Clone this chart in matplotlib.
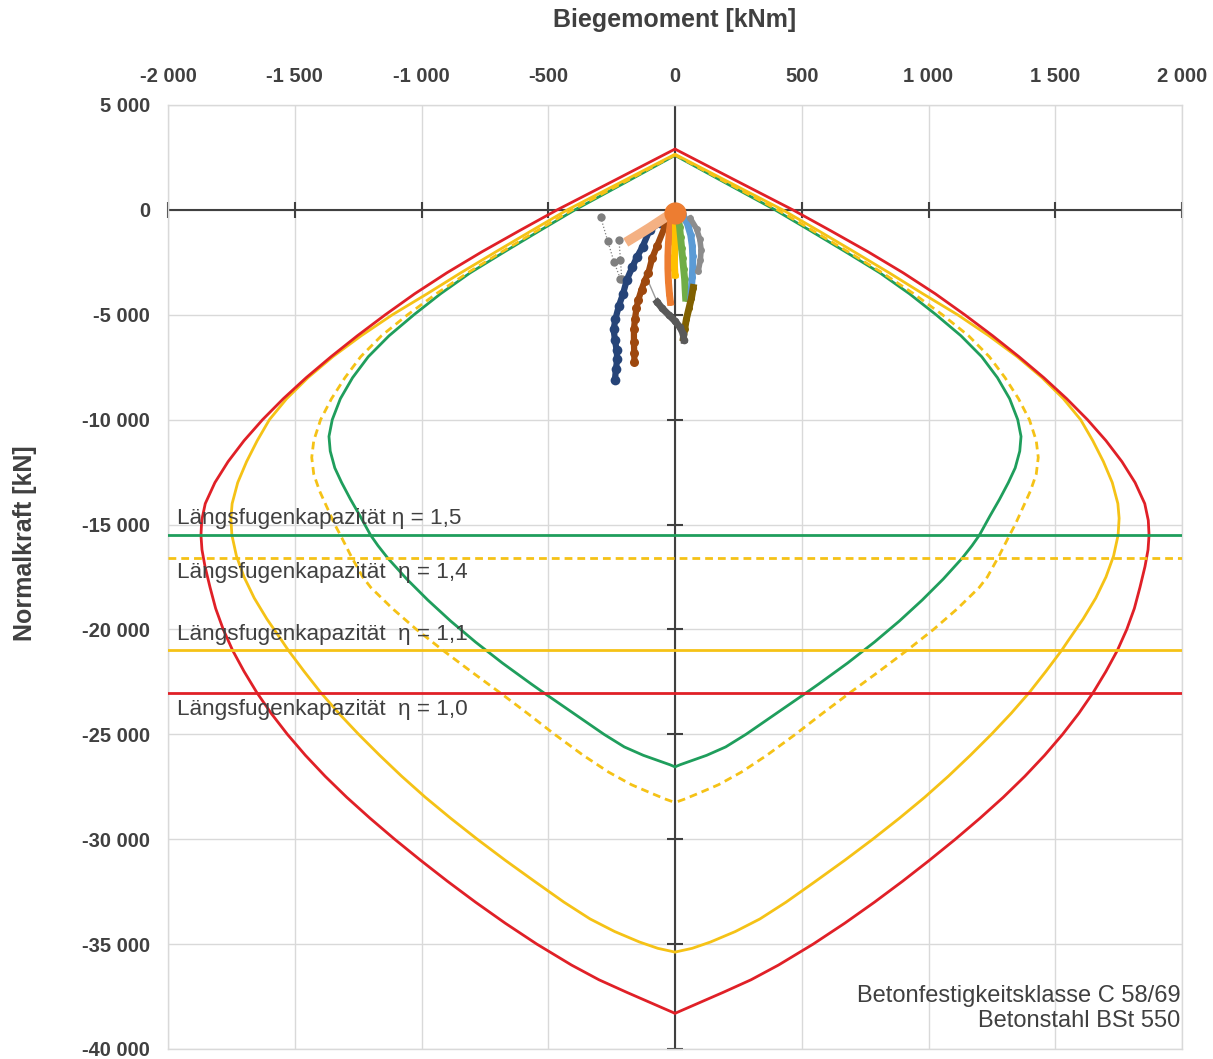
import matplotlib
matplotlib.use("Agg")
import matplotlib.pyplot as plt
from matplotlib.ticker import FuncFormatter

plt.rcParams['font.family'] = ['Liberation Sans', 'DejaVu Sans']

# ---------------- data ----------------
# interaction diagrams, N [kN] with M [kNm] of the right (+) and left (-) branch
red_N = [2900, 1450, 0, -1000, -2000, -3000, -4000, -5000, -6000, -7000, -8000, -9000, -10000, -11000,
         -12000, -13000, -14000, -14800, -15500, -16200, -17000, -18000, -19000, -20000, -21000, -22000,
         -23000, -24000, -25000, -26000, -27000, -28000, -29000, -30000, -31000, -32000, -33000, -34000,
         -35000, -36000, -36700, -37300, -37800, -38100, -38300]
red_M_right = [0, 232, 465, 615, 762, 900, 1027, 1143, 1253, 1357, 1455, 1545, 1627, 1700,
               1763, 1815, 1853, 1867, 1870, 1866, 1854, 1834, 1812, 1782, 1745, 1700,
               1650, 1593, 1529, 1458, 1380, 1295, 1203, 1106, 1004, 898, 787, 670,
               545, 408, 300, 190, 95, 38, 0]
red_M_left = [0, -232, -465, -615, -762, -900, -1027, -1143, -1253, -1357, -1455, -1545, -1627, -1700,
              -1763, -1815, -1853, -1867, -1870, -1866, -1854, -1834, -1812, -1782, -1745, -1700,
              -1650, -1593, -1529, -1458, -1380, -1295, -1203, -1106, -1004, -898, -787, -670,
              -545, -408, -300, -190, -95, -38, 0]

yel_N = [2650, 0, -1000, -2000, -3000, -4000, -5000, -6000, -7000, -8000, -9000, -10000, -11000, -12000,
         -13000, -14000, -14700, -15500, -16500, -17500, -18500, -19500, -20500, -21000, -22000, -23000,
         -24000, -25000, -26000, -27000, -28000, -29000, -30000, -31000, -32000, -33000, -33800, -34400,
         -34900, -35200, -35380]
yel_M_right = [0, 425, 567, 707, 845, 978, 1115, 1238, 1350, 1448, 1532, 1600, 1648, 1690,
               1725, 1747, 1752, 1748, 1730, 1700, 1660, 1610, 1553, 1525, 1463, 1398,
               1326, 1248, 1165, 1078, 985, 885, 780, 670, 555, 438, 335, 238,
               140, 68, 0]
yel_M_left = [0, -425, -567, -707, -845, -978, -1115, -1238, -1350, -1448, -1532, -1600, -1648, -1690,
              -1725, -1747, -1752, -1748, -1730, -1700, -1660, -1610, -1553, -1525, -1463, -1398,
              -1326, -1248, -1165, -1078, -985, -885, -780, -670, -555, -438, -335, -238,
              -140, -68, 0]

grn_N = [2600, 1300, 0, -1000, -2000, -3000, -4000, -5000, -6000, -7000, -8000, -9000, -10000,
         -10800, -11500, -12300, -13000, -13800, -14600, -15500, -16000, -16600, -17600, -18600,
         -19600, -20600, -21600, -22600, -23000, -24000, -25000, -25600, -26000, -26300, -26450, -26550]
grn_M_right = [0, 197, 395, 535, 673, 808, 925, 1030, 1128, 1210, 1272, 1320, 1352,
               1365, 1360, 1342, 1315, 1280, 1242, 1201, 1172, 1133, 1058, 975,
               885, 787, 681, 567, 520, 400, 280, 200, 125, 55, 20, 0]
grn_M_left = [0, -197, -395, -535, -673, -808, -925, -1030, -1128, -1210, -1272, -1320, -1352,
              -1365, -1360, -1342, -1315, -1280, -1242, -1201, -1172, -1133, -1058, -975,
              -885, -787, -681, -567, -520, -400, -280, -200, -125, -55, -20, 0]

ydash_N = [2620, 0, -1000, -2000, -3000, -4000, -5000, -6000, -7000, -8000, -9000, -10000, -11000,
           -11800, -12600, -13400, -14200, -15000, -15500, -16500, -17500, -18000, -19000, -20000,
           -21000, -22000, -23000, -24000, -25000, -26000, -26800, -27400, -27800, -28100, -28250]
ydash_M_right = [0, 405, 545, 683, 818, 942, 1055, 1158, 1240, 1302, 1355, 1398, 1425,
                 1433, 1425, 1402, 1372, 1342, 1320, 1278, 1232, 1200, 1115, 1020,
                 915, 805, 692, 582, 475, 362, 262, 172, 95, 35, 0]
ydash_M_left = [0, -405, -545, -683, -818, -942, -1055, -1158, -1240, -1302, -1355, -1398, -1425,
                -1433, -1425, -1402, -1372, -1342, -1320, -1278, -1232, -1200, -1115, -1020,
                -915, -805, -692, -582, -475, -362, -262, -172, -95, -35, 0]

# capacity of the longitudinal joint (N [kN])
cap_labels = ["Längsfugenkapazität η = 1,5", "Längsfugenkapazität  η = 1,4",
              "Längsfugenkapazität  η = 1,1", "Längsfugenkapazität  η = 1,0"]
cap_N = [-15500, -16600, -21000, -23050]
cap_label_N = [-14700, -17300, -20250, -23800]

# measured load paths (M, N)
s_darkblue_M = [-10, -60, -100, -128, -150, -168, -190, -205, -222, -235, -242, -237, -230, -228, -233, -237]
s_darkblue_N = [-100, -620, -960, -1760, -2240, -2720, -3330, -4000, -4600, -5200, -5700, -6200, -6700, -7100, -7600, -8100]
s_brown_M = [-10, -40, -70, -90, -105, -120, -132, -145, -152, -158, -162, -162, -161, -160]
s_brown_N = [-100, -800, -1700, -2300, -3000, -3400, -3800, -4300, -4700, -5200, -5700, -6300, -6800, -7250]
s_peach_M = [-5, -50, -100, -140, -178]
s_peach_N = [-100, -450, -850, -1150, -1430]
s_orange_M = [-5, -15, -22, -26, -28, -28, -26, -22, -18]
s_orange_N = [100, -400, -1000, -1600, -2200, -2800, -3400, -4000, -4400]
s_yellow_M = [0, 2, 2, 0, -2, -2, 0]
s_yellow_N = [-300, -800, -1300, -1800, -2300, -2700, -3100]
s_green_M = [12, 18, 22, 26, 30, 34, 38, 40, 42]
s_green_N = [-300, -800, -1300, -1800, -2300, -2800, -3300, -3800, -4200]
s_blue_M = [30, 50, 62, 68, 70, 70, 68, 65, 62]
s_blue_N = [-200, -700, -1200, -1700, -2200, -2700, -3200, -3700, -4200]
s_gray_M = [60, 85, 98, 103, 100, 92]
s_gray_N = [-400, -900, -1400, -1900, -2400, -2900]
s_olive_M = [72, 65, 55, 45, 38, 33]
s_olive_N = [-3700, -4200, -4700, -5200, -5700, -6100]
s_dgray_M = [-70, -50, -25, 0, 20, 32, 35]
s_dgray_N = [-4400, -4700, -5000, -5300, -5600, -5900, -6200]
s_dotA_M = [-293, -265, -240, -215]
s_dotA_N = [-350, -1500, -2500, -3300]
s_dotB_M = [-221, -215, -210]
s_dotB_N = [-1430, -2400, -3300]
s_thin_M = [-120, -70]
s_thin_N = [-3000, -4400]

x_ticks = [-2000, -1500, -1000, -500, 0, 500, 1000, 1500, 2000]
y_ticks = [5000, 0, -5000, -10000, -15000, -20000, -25000, -30000, -35000, -40000]

# ---------------- figure ----------------
W, H = 1213, 1059
fig = plt.figure(figsize=(W / 100, H / 100), dpi=100)
ax = fig.add_axes([168 / W, 1 - 1049 / H, (1182 - 168) / W, (1049 - 105) / H])

RED = '#e02027'
YEL = '#f5c216'
GRN = '#1f9e5c'
TXT = '#404040'

ax.set_xlim(-2000, 2000)
ax.set_ylim(-40000, 5000)
ax.set_xticks(x_ticks)
ax.set_yticks(y_ticks)
fmt = FuncFormatter(lambda v, p: f"{v:,.0f}".replace(",", " "))
ax.xaxis.set_major_formatter(fmt)
ax.yaxis.set_major_formatter(fmt)
ax.xaxis.tick_top()
ax.tick_params(axis='x', length=0, pad=14, labelsize=14.5, labelcolor=TXT)
ax.tick_params(axis='y', length=0, pad=13, labelsize=14.5, labelcolor=TXT)
for lab in ax.get_xticklabels() + ax.get_yticklabels():
    lab.set_fontweight('bold')
ax.grid(True, color='#d9d9d9', linewidth=1.0)
ax.set_axisbelow(True)
for sp in ax.spines.values():
    sp.set_color('#d9d9d9')
    sp.set_linewidth(1.0)

# zero axes with crossing tick marks
ax.axhline(0, color=TXT, linewidth=1.5, zorder=2)
ax.axvline(0, color=TXT, linewidth=1.5, zorder=2)
ax.plot(x_ticks, [0] * len(x_ticks), linestyle='none', marker='|', markersize=11,
        markeredgewidth=1.5, color=TXT, zorder=2, clip_on=False)
ax.plot([0] * len(y_ticks[1:]), y_ticks[1:], linestyle='none', marker='_', markersize=11,
        markeredgewidth=1.5, color=TXT, zorder=2, clip_on=False)

# interaction diagrams
LW = 2.0
DASH = (2.8, 1.8)
solid = dict(linewidth=LW, zorder=3, solid_capstyle='round', solid_joinstyle='round')
ax.plot(grn_M_right, grn_N, color=GRN, **solid)
ax.plot(grn_M_left, grn_N, color=GRN, **solid)
ax.plot(yel_M_right, yel_N, color=YEL, **solid)
ax.plot(yel_M_left, yel_N, color=YEL, **solid)
ax.plot(ydash_M_right, ydash_N, color=YEL, linewidth=LW, dashes=DASH, zorder=3)
ax.plot(ydash_M_left, ydash_N, color=YEL, linewidth=LW, dashes=DASH, zorder=3)
ax.plot(red_M_right, red_N, color=RED, **solid)
ax.plot(red_M_left, red_N, color=RED, **solid)

# joint capacity lines
cap_colors = [GRN, YEL, YEL, RED]
cap_dashed = [False, True, False, False]
for n, c, d in zip(cap_N, cap_colors, cap_dashed):
    if d:
        ax.axhline(n, color=c, linewidth=LW, dashes=DASH, zorder=3)
    else:
        ax.axhline(n, color=c, linewidth=LW, zorder=3)
for lab, n in zip(cap_labels, cap_label_N):
    ax.text(-1965, n, lab, fontsize=16.2, color=TXT, ha='left', va='center', zorder=5)

# load paths
def path(M, N, color, lw=2.8, ms=4.5, **kw):
    ax.plot(M, N, color=color, linewidth=lw, marker='o', markersize=ms,
            markeredgewidth=0, zorder=4, **kw)

path(s_dotA_M, s_dotA_N, '#7f7f7f', lw=0.9, ms=6, linestyle=':')
path(s_dotB_M, s_dotB_N, '#7f7f7f', lw=0.9, ms=6, linestyle=':')
path(s_thin_M, s_thin_N, '#9a9a9a', lw=1.0, ms=3)
path(s_darkblue_M, s_darkblue_N, '#264478', lw=4.5, ms=7)
path(s_brown_M, s_brown_N, '#9e480e', lw=4.5, ms=6.5)
path(s_peach_M, s_peach_N, '#f4b183', lw=7, ms=5)
path(s_orange_M, s_orange_N, '#ed7d31', lw=5, ms=5)
path(s_yellow_M, s_yellow_N, '#ffc000', lw=5, ms=5)
path(s_green_M, s_green_N, '#70ad47', lw=5, ms=5)
path(s_blue_M, s_blue_N, '#5b9bd5', lw=5, ms=5)
path(s_gray_M, s_gray_N, '#8c8c8c', lw=4, ms=5)
path(s_olive_M, s_olive_N, '#806000', lw=5, ms=5)
path(s_dgray_M, s_dgray_N, '#595959', lw=5, ms=5.5)
ax.plot([0], [-150], marker='o', markersize=15, color='#ed7d31', zorder=4)

# annotations
ax.text(1995, -37476, "Betonfestigkeitsklasse C 58/69", fontsize=17,
        color=TXT, ha='right', va='center', zorder=5)
ax.text(1995, -38667, "Betonstahl BSt 550", fontsize=17,
        color=TXT, ha='right', va='center', zorder=5)
fig.text(675 / W, 1 - 20 / H, "Biegemoment [kNm]", fontsize=18, fontweight='bold',
         color=TXT, ha='center', va='center')
fig.text(25 / W, 1 - 543 / H, "Normalkraft [kN]", fontsize=18, fontweight='bold',
         color=TXT, ha='center', va='center', rotation=90)

fig.savefig("out.png", dpi=100)
